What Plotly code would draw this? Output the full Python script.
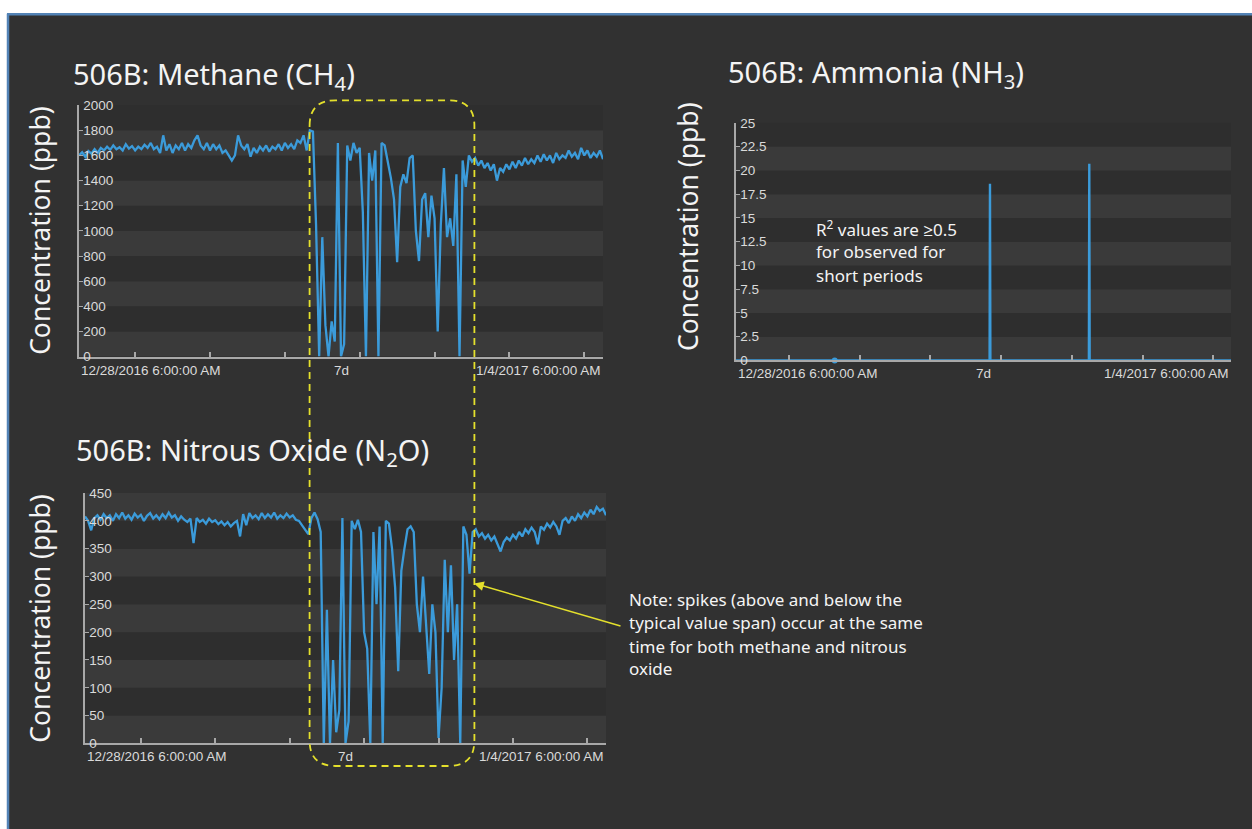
import pandas as pd
import plotly.graph_objects as go

# ---------------- data ----------------
start_time = "2016-12-28 06:00:00"
end_time = "2017-01-04 06:00:00"
sample_times = pd.date_range(start_time, end_time, freq="h")          # hourly samples
day_ticks = pd.date_range("2016-12-29", "2017-01-04", freq="D")       # midnight ticks

x_labels = ["12/28/2016 6:00:00 AM", "7d", "1/4/2017 6:00:00 AM"]

methane_ppb = [
    1600, 1625, 1590, 1635, 1615, 1650, 1620, 1660, 1640, 1670,
    1645, 1680, 1650, 1665, 1640, 1690, 1655, 1675, 1640, 1670,
    1650, 1685, 1660, 1700, 1650, 1670, 1620, 1760, 1640, 1690,
    1620, 1680, 1650, 1700, 1640, 1690, 1660, 1720, 1760, 1680,
    1650, 1700, 1640, 1690, 1650, 1680, 1620, 1640, 1600, 1560,
    1600, 1760, 1680, 1650, 1690, 1590, 1660, 1620, 1670, 1640,
    1680, 1630, 1670, 1650, 1690, 1640, 1700, 1660, 1690, 1650,
    1720, 1700, 1760, 1640, 1800, 1790, 1050, 0, 950, 250,
    0, 280, 120, 1700, 0, 100, 1680, 1560, 1700, 1620,
    1660, 1150, 0, 1620, 1400, 1640, 0, 1700, 1680, 1560,
    1420, 1250, 750, 1350, 1450, 1380, 1580, 1600, 1000, 760,
    1250, 1300, 950, 1280, 1100, 200, 1050, 1500, 950, 1100,
    880, 1450, 0, 1560, 1350, 1600, 1550, 1580, 1520, 1560,
    1500, 1540, 1480, 1530, 1400, 1500, 1470, 1530, 1490, 1550,
    1500, 1560, 1520, 1580, 1530, 1570, 1540, 1600, 1550, 1610,
    1560, 1600, 1540, 1620, 1570, 1600, 1580, 1640, 1590, 1620,
    1570, 1660, 1600, 1640, 1580, 1620, 1590, 1640, 1570,
]

n2o_ppb = [
    408, 400, 383, 405, 410, 402, 412, 405, 410, 400,
    412, 405, 415, 404, 410, 402, 413, 406, 411, 400,
    409, 414, 404, 410, 403, 412, 405, 415, 406, 410,
    400, 408, 402, 398, 404, 360, 405, 398, 402, 395,
    404, 398, 401, 394, 399, 392, 398, 390, 396, 400,
    372, 412, 392, 414, 405, 410, 403, 414, 405, 412,
    406, 415, 404, 410, 405, 413, 406, 410, 402, 400,
    392, 385, 376, 405, 415, 403, 380, 0, 240, 0,
    150, 20, 60, 405, 0, 40, 400, 385, 402, 380,
    200, 170, 0, 380, 250, 390, 0, 400, 395, 350,
    280, 130, 310, 350, 385, 390, 380, 250, 200, 300,
    220, 125, 250, 200, 10, 100, 330, 200, 320, 150,
    250, 0, 390, 375, 305, 380, 385, 372, 378, 368,
    375, 365, 372, 360, 345, 362, 370, 365, 375, 368,
    380, 372, 385, 378, 388, 380, 358, 390, 384, 395,
    388, 398, 390, 375, 400, 405, 396, 408, 400, 412,
    405, 415, 408, 420, 412, 425, 418, 422, 410,
]

ammonia_times = ["2016-12-28 06:00", "2016-12-31 20:04", "2016-12-31 20:12", "2016-12-31 20:20",
                 "2017-01-02 05:46", "2017-01-02 05:54", "2017-01-02 06:02", "2017-01-04 06:00"]
ammonia_ppb = [0, 0, 18.6, 0, 0, 20.7, 0, 0]
ammonia_dot_time = ["2016-12-29 15:30"]
ammonia_dot_ppb = [0]

# ---------------- style ----------------
W, H = 1252, 829
BG = "#313131"
BAND_LIGHT = "#3a3a3a"
BAND_DARK = "#2e2e2e"
LINE = "#3b9bda"
AXIS = "#a8a8a8"
TICKTXT = "#dadada"
TXT = "#f4f4f4"
YELLOW = "#e4e02c"
TICKFONT = "Liberation Sans Narrow, Arial Narrow, Liberation Sans, Arial"
MAINFONT = "Noto Sans, Open Sans, DejaVu Sans"


def px(xp):
    return xp / W


def py(yp):
    return 1 - yp / H


fig = go.Figure()

fig.add_trace(go.Scatter(x=sample_times, y=methane_ppb, xaxis="x", yaxis="y", mode="lines",
                         line=dict(color=LINE, width=2.3), hoverinfo="skip"))
fig.add_trace(go.Scatter(x=ammonia_times, y=ammonia_ppb, xaxis="x2", yaxis="y2", mode="lines",
                         line=dict(color=LINE, width=2.4), hoverinfo="skip"))
fig.add_trace(go.Scatter(x=ammonia_dot_time, y=ammonia_dot_ppb, xaxis="x2", yaxis="y2", mode="markers",
                         marker=dict(color=LINE, size=6), cliponaxis=False, hoverinfo="skip"))
fig.add_trace(go.Scatter(x=sample_times, y=n2o_ppb, xaxis="x3", yaxis="y3", mode="lines",
                         line=dict(color=LINE, width=2.3), hoverinfo="skip"))

panels = [
    # (xaxis name, yaxis name, x domain px, y domain px, y range, dtick)
    ("x", "y", (79, 603), (100, 356), (0, 2000), 200),
    ("x2", "y2", (736, 1231), (118, 360), (0, 25), 2.5),
    ("x3", "y3", (85, 606), (495, 750), (0, 450), 50),
]

shapes = []
annotations = []
layout_axes = {}
for xa, ya, (x0, x1), (y0, y1), yr, dt in panels:
    xkey = "xaxis" + xa[1:]
    ykey = "yaxis" + ya[1:]
    layout_axes[xkey] = dict(
        domain=[px(x0), px(x1)], anchor=ya, type="date", range=[start_time, end_time],
        showgrid=False, zeroline=False, showline=True, linecolor=AXIS, linewidth=2,
        tickmode="array", tickvals=list(day_ticks), ticks="inside", ticklen=5,
        tickcolor=AXIS, tickwidth=1.5, showticklabels=False, fixedrange=True)
    layout_axes[ykey] = dict(
        domain=[py(y1), py(y0)], anchor=xa, range=list(yr), tick0=0, dtick=dt,
        showgrid=False, zeroline=False, showline=True, linecolor=AXIS, linewidth=2,
        ticks="inside", ticklen=4, tickcolor=AXIS, tickwidth=1.2,
        ticklabelposition="inside", ticklabeloverflow="allow",
        tickfont=dict(family=TICKFONT, size=13.5, color=TICKTXT), fixedrange=True)
    # alternating horizontal bands
    k = 0
    v = yr[0]
    while v < yr[1] - 1e-9:
        shapes.append(dict(type="rect", xref=xa + " domain", x0=0, x1=1, yref=ya, y0=v, y1=v + dt,
                           fillcolor=BAND_LIGHT if k % 2 == 0 else BAND_DARK,
                           line=dict(width=0), layer="below"))
        v += dt
        k += 1
    # start / duration / end labels
    for lab, xx, anc in zip(x_labels, [0, 0.5, 1], ["left", "center", "right"]):
        annotations.append(dict(text=lab, xref=xa + " domain", yref=ya + " domain", x=xx, y=0,
                                xanchor=anc, yanchor="top", yshift=-4, showarrow=False,
                                font=dict(family=TICKFONT, size=13.5, color=TICKTXT)))

# titles
titles = [
    ("506B: Methane (CH<sub>4</sub>)", 71, 70),
    ("506B: Ammonia (NH<sub>3</sub>)", 726, 68),
    ("506B: Nitrous Oxide (N<sub>2</sub>O)", 74, 453),
]
for t, xx, yy in titles:
    annotations.append(dict(text=t, xref="paper", yref="paper", x=px(xx), y=py(yy), xanchor="left",
                            yanchor="middle", showarrow=False,
                            font=dict(family=MAINFONT, size=29, color=TXT)))

# y titles
for xx, yy in [(40, 228), (688, 224), (40, 623)]:
    annotations.append(dict(text="Concentration (ppb)", textangle=-90, xref="paper", yref="paper",
                            x=px(xx), y=py(yy), xanchor="center", yanchor="middle", showarrow=False,
                            font=dict(family=MAINFONT, size=26.5, color=TXT)))

# R2 note
for t, yy in [("R<sup>2</sup> values are ≥0.5", 226), ("for observed for", 249), ("short periods", 273)]:
    annotations.append(dict(text=t, xref="paper", yref="paper", x=px(814), y=py(yy), xanchor="left",
                            yanchor="middle", showarrow=False,
                            font=dict(family=MAINFONT, size=17, color=TXT)))

# spikes note
for t, yy in [("Note: spikes (above and below the", 603), ("typical value span) occur at the same", 627),
              ("time for both methane and nitrous", 651), ("oxide", 674)]:
    annotations.append(dict(text=t, xref="paper", yref="paper", x=px(627), y=py(yy), xanchor="left",
                            yanchor="middle", showarrow=False,
                            font=dict(family=MAINFONT, size=17, color=TXT)))

# arrow
annotations.append(dict(text="", xref="paper", yref="paper", x=px(474), y=py(587), ax=148, ay=43,
                        showarrow=True, arrowhead=2, arrowsize=1.3, arrowwidth=1.5, arrowcolor=YELLOW))

# dashed rounded rectangle
L, R, T, B, r = 309.6, 474.4, 95, 773, 26


def P(a, b):
    return f"{px(a):.5f},{py(b):.5f}"


path = (f"M {P(L, T + r)} Q {P(L, T)} {P(L + r, T)} L {P(R - r, T)} Q {P(R, T)} {P(R, T + r)} "
        f"L {P(R, B - r)} Q {P(R, B)} {P(R - r, B)} L {P(L + r, B)} Q {P(L, B)} {P(L, B - r)} Z")
shapes.append(dict(type="path", xref="paper", yref="paper", path=path,
                   line=dict(color=YELLOW, width=1.8, dash="7px,5px"), layer="above"))

# page frame: white strip + blue border
shapes.append(dict(type="rect", xref="paper", yref="paper", x0=-0.01, x1=px(7), y0=-0.02, y1=1.01,
                   fillcolor="white", line=dict(width=0), layer="above"))
shapes.append(dict(type="rect", xref="paper", yref="paper", x0=-0.01, x1=1.01, y0=py(6), y1=1.01,
                   fillcolor="white", line=dict(width=0), layer="above"))
shapes.append(dict(type="line", xref="paper", yref="paper", x0=px(8), x1=px(8), y0=-0.02, y1=py(7),
                   line=dict(color="#5383b6", width=2.5), layer="above"))
shapes.append(dict(type="line", xref="paper", yref="paper", x0=px(7), x1=1.01, y0=py(7.5), y1=py(7.5),
                   line=dict(color="#5383b6", width=2.5), layer="above"))

fig.update_layout(
    width=W, height=H, margin=dict(l=0, r=0, t=0, b=0),
    paper_bgcolor=BG, plot_bgcolor="rgba(0,0,0,0)",
    showlegend=False, shapes=shapes, annotations=annotations,
    **layout_axes,
)

fig.write_html("out.html", config={"displayModeBar": False},
               post_script="document.body.style.margin='0';document.body.style.overflow='hidden';")
